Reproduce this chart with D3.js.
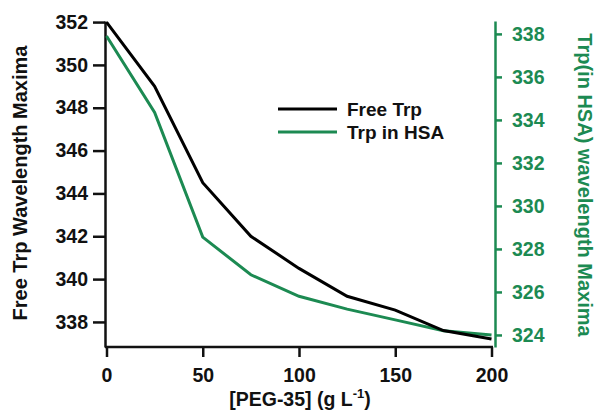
<!DOCTYPE html>
<html lang="en">
<head>
<meta charset="UTF-8">
<title>Trp wavelength maxima</title>
<script src="https://cdn.jsdelivr.net/npm/d3@7"></script>
<style>
  body { margin: 0; background: #fff; }
  text { font-family: "Liberation Sans", Arial, sans-serif; font-weight: bold; }
</style>
</head>
<body>
<div id="app"></div>
<script>
var width = 598, height = 412;
var green = "#1c8a52";

// data
var peg = [0, 25, 50, 75, 100, 125, 150, 175, 200];
var freeTrp = [352, 349.0, 344.5, 342.0, 340.5, 339.2, 338.55, 337.6, 337.2];
var trpHSA = [337.9, 334.35, 328.55, 326.8, 325.8, 325.2, 324.7, 324.2, 324.0];
var xTicks = [0, 50, 100, 150, 200];
var leftTicks = [338, 340, 342, 344, 346, 348, 350, 352];
var rightTicks = [324, 326, 328, 330, 332, 334, 336, 338];

var svg = d3.select("#app").append("svg")
    .attr("width", width)
    .attr("height", height);

var x = d3.scaleLinear().domain([0, 200]).range([106.5, 491.5]);
var yL = d3.scaleLinear().domain([336.83, 352.05]).range([347, 21]);
var yR = d3.scaleLinear().domain([323.44, 338.6]).range([347, 21]);

// x axis
var gx = svg.append("g")
    .attr("transform", "translate(0,347)")
    .call(d3.axisBottom(x).tickValues(xTicks).tickSize(10).tickSizeOuter(0).tickPadding(11));
gx.select(".domain").attr("d", "M105,0H493");

// left axis
var gl = svg.append("g")
    .attr("transform", "translate(105,0)")
    .call(d3.axisLeft(yL).tickValues(leftTicks).tickSize(12).tickSizeOuter(0).tickPadding(5));

// right axis
var gr = svg.append("g")
    .attr("transform", "translate(495,0)")
    .call(d3.axisRight(yR).tickValues(rightTicks).tickSize(7).tickSizeOuter(0).tickPadding(10));

[gx, gl, gr].forEach(function (g) {
    g.selectAll("text").style("font-size", "19.5px").attr("fill", "#111");
    g.selectAll("line").attr("stroke-width", 2.5).attr("stroke", "#111");
    g.select(".domain").attr("stroke-width", 2.5).attr("stroke", "#111");
});
gr.selectAll("text").attr("fill", green);
gr.selectAll("line").attr("stroke", green);
gr.select(".domain").attr("stroke", green);

// lines
var lineL = d3.line().x(function (d, i) { return x(peg[i]); }).y(function (d) { return yL(d); });
var lineR = d3.line().x(function (d, i) { return x(peg[i]); }).y(function (d) { return yR(d); });

svg.append("path").datum(trpHSA)
    .attr("d", lineR)
    .attr("fill", "none")
    .attr("stroke", green)
    .attr("stroke-width", 3);

svg.append("path").datum(freeTrp)
    .attr("d", lineL)
    .attr("fill", "none")
    .attr("stroke", "#000")
    .attr("stroke-width", 3);

// axis titles
svg.append("text")
    .attr("transform", "translate(27,183) rotate(-90)")
    .attr("text-anchor", "middle")
    .style("font-size", "20px")
    .attr("fill", "#111")
    .text("Free Trp Wavelength Maxima");

svg.append("text")
    .attr("transform", "translate(578,185) rotate(90)")
    .attr("text-anchor", "middle")
    .style("font-size", "20px")
    .attr("fill", green)
    .text("Trp(in HSA) wavelength Maxima");

var xl = svg.append("text")
    .attr("x", 300)
    .attr("y", 406)
    .attr("text-anchor", "middle")
    .style("font-size", "19.5px")
    .attr("fill", "#111");
xl.append("tspan").text("[PEG-35] (g L");
xl.append("tspan").attr("dy", -8).style("font-size", "13px").text("-1");
xl.append("tspan").attr("dy", 8).text(")");

// legend
var legend = [
    { name: "Free Trp", color: "#000" },
    { name: "Trp in HSA", color: green }
];
var lg = svg.selectAll(".legend").data(legend).enter().append("g")
    .attr("class", "legend")
    .attr("transform", function (d, i) { return "translate(278," + (109 + i * 23) + ")"; });
lg.append("line")
    .attr("x1", 0).attr("x2", 59)
    .attr("stroke", function (d) { return d.color; })
    .attr("stroke-width", 3);
lg.append("text")
    .attr("x", 69)
    .attr("dy", "0.35em")
    .style("font-size", "19px")
    .attr("fill", "#111")
    .text(function (d) { return d.name; });
</script>
</body>
</html>
